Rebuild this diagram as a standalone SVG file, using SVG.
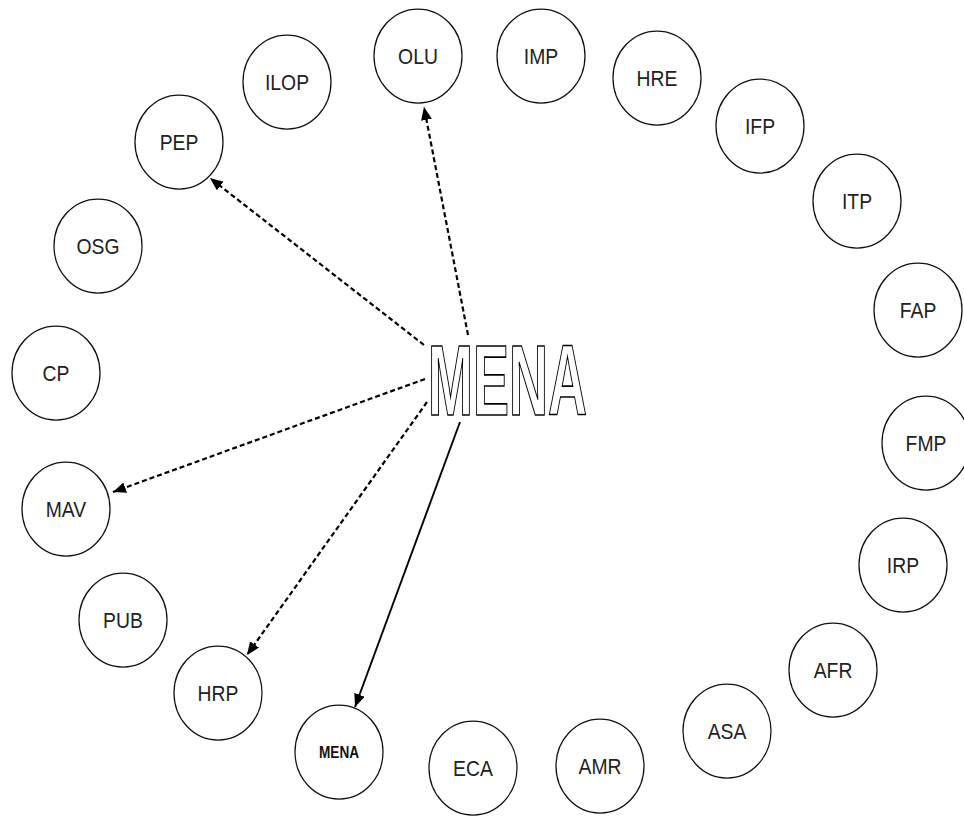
<svg xmlns="http://www.w3.org/2000/svg" width="964" height="821" viewBox="0 0 964 821">
  <style>
    .node ellipse { fill: #ffffff; stroke: #111111; stroke-width: 1.25; }
    .node text { font-family: "Liberation Sans", Arial, sans-serif; font-size: 22px; fill: #222222; text-anchor: middle; }
    .node text.bold { font-weight: bold; font-size: 16px; fill: #111111; }
    .link { fill: none; stroke: #000000; stroke-width: 2.2; stroke-dasharray: 5 3; }
    .link.solid { stroke-dasharray: none; stroke-width: 1.9; }
    .hub { font-family: "Liberation Sans", Arial, sans-serif; font-weight: bold; font-size: 100px; fill: #ffffff; stroke: #000000; stroke-width: 1.6; }
  </style>
  <defs>
    <marker id="arrow" markerUnits="userSpaceOnUse" markerWidth="15" markerHeight="12" refX="13" refY="5.5" orient="auto">
      <path d="M0,0 L13,5.5 L0,11 Z" fill="#000000"/>
    </marker>
  </defs>
  <rect width="964" height="821" fill="#ffffff"/>

  <!-- outer ring of nodes; each node is drawn at its group's origin -->
  <g id="node-ILOP" class="node" transform="translate(287,82)"><ellipse rx="44" ry="47"/><text y="8" transform="scale(0.88,1)">ILOP</text></g>
  <g id="node-OLU" class="node" transform="translate(418,56)"><ellipse rx="44" ry="47"/><text y="8" transform="scale(0.88,1)">OLU</text></g>
  <g id="node-IMP" class="node" transform="translate(541,56)"><ellipse rx="44" ry="47"/><text y="8" transform="scale(0.88,1)">IMP</text></g>
  <g id="node-HRE" class="node" transform="translate(657,78)"><ellipse rx="44" ry="47"/><text y="8" transform="scale(0.88,1)">HRE</text></g>
  <g id="node-IFP" class="node" transform="translate(760,126)"><ellipse rx="44" ry="47"/><text y="8" transform="scale(0.88,1)">IFP</text></g>
  <g id="node-ITP" class="node" transform="translate(857,201)"><ellipse rx="44" ry="47"/><text y="8" transform="scale(0.88,1)">ITP</text></g>
  <g id="node-FAP" class="node" transform="translate(918,310)"><ellipse rx="44" ry="47"/><text y="8" transform="scale(0.88,1)">FAP</text></g>
  <g id="node-FMP" class="node" transform="translate(926,443)"><ellipse rx="44" ry="47"/><text y="8" transform="scale(0.88,1)">FMP</text></g>
  <g id="node-IRP" class="node" transform="translate(903,565)"><ellipse rx="44" ry="47"/><text y="8" transform="scale(0.88,1)">IRP</text></g>
  <g id="node-AFR" class="node" transform="translate(833,670)"><ellipse rx="44" ry="47"/><text y="8" transform="scale(0.88,1)">AFR</text></g>
  <g id="node-ASA" class="node" transform="translate(727,731)"><ellipse rx="44" ry="47"/><text y="8" transform="scale(0.88,1)">ASA</text></g>
  <g id="node-AMR" class="node" transform="translate(600,766)"><ellipse rx="44" ry="47"/><text y="8" transform="scale(0.88,1)">AMR</text></g>
  <g id="node-ECA" class="node" transform="translate(473,768)"><ellipse rx="44" ry="47"/><text y="8" transform="scale(0.88,1)">ECA</text></g>
  <g id="node-MENA-sub" class="node" transform="translate(339,752)"><ellipse rx="44" ry="47"/><text class="bold" y="6" transform="scale(0.85,1)">MENA</text></g>
  <g id="node-HRP" class="node" transform="translate(218,693)"><ellipse rx="44" ry="47"/><text y="8" transform="scale(0.88,1)">HRP</text></g>
  <g id="node-PUB" class="node" transform="translate(123,620)"><ellipse rx="44" ry="47"/><text y="8" transform="scale(0.88,1)">PUB</text></g>
  <g id="node-MAV" class="node" transform="translate(66,509)"><ellipse rx="44" ry="47"/><text y="8" transform="scale(0.88,1)">MAV</text></g>
  <g id="node-CP" class="node" transform="translate(56,373)"><ellipse rx="44" ry="47"/><text y="8" transform="scale(0.88,1)">CP</text></g>
  <g id="node-OSG" class="node" transform="translate(98,246)"><ellipse rx="44" ry="47"/><text y="8" transform="scale(0.88,1)">OSG</text></g>
  <g id="node-PEP" class="node" transform="translate(179,142)"><ellipse rx="44" ry="47"/><text y="8" transform="scale(0.88,1)">PEP</text></g>

  <!-- connectors from the hub -->
  <g id="connectors">
    <line class="link" x1="468" y1="335" x2="424" y2="107" marker-end="url(#arrow)"/>
    <line class="link" x1="424" y1="345" x2="210" y2="178" marker-end="url(#arrow)"/>
    <line class="link" x1="425" y1="379" x2="113" y2="492" marker-end="url(#arrow)"/>
    <line class="link" x1="427" y1="402" x2="247" y2="655" marker-end="url(#arrow)"/>
    <line class="link solid" x1="460" y1="422" x2="355" y2="707" marker-end="url(#arrow)"/>
  </g>

  <!-- hub label -->
  <g id="node-MENA">
    <text class="hub" x="428" y="415" textLength="159" lengthAdjust="spacingAndGlyphs">MENA</text>
  </g>
</svg>
